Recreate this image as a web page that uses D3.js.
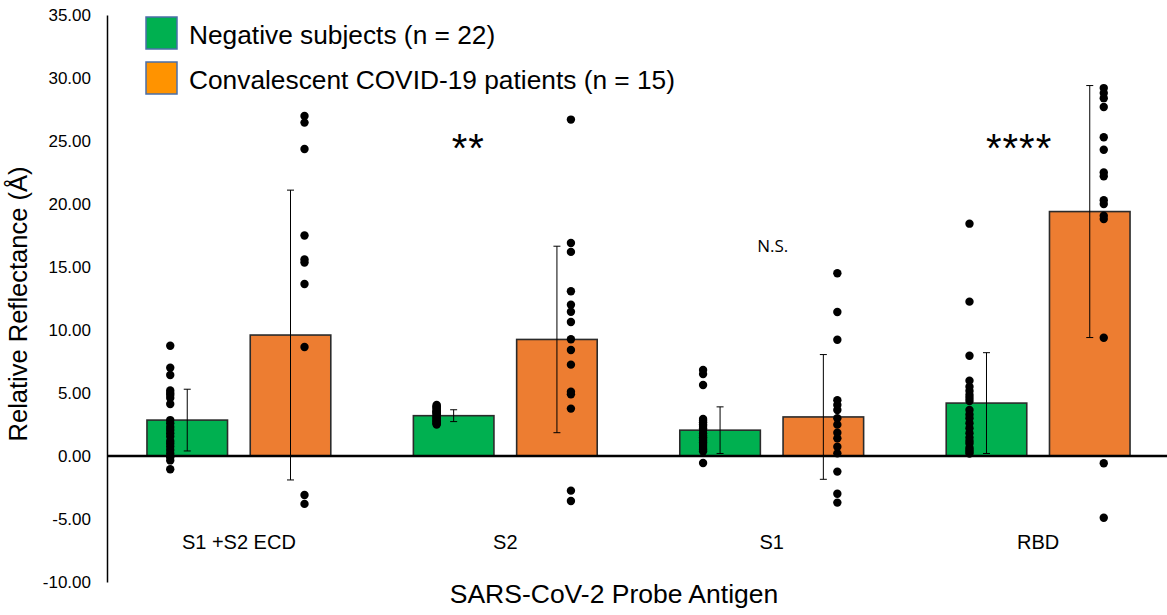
<!DOCTYPE html>
<html>
<head>
<meta charset="utf-8">
<script src="https://cdn.jsdelivr.net/npm/d3@7"></script>
<style>
  body { margin: 0; background: #fff; }
  svg { display: block; font-family: "Liberation Sans", Arial, sans-serif; }
</style>
</head>
<body>
<svg width="1167" height="615"></svg>
<script>
// données
const categories = ["S1 +S2 ECD", "S2", "S1", "RBD"];
const series = ["Negative subjects (n = 22)", "Convalescent COVID-19 patients (n = 15)"];

const negMeans = [2.85, 3.2, 2.05, 4.2];
const negSD    = [2.45, 0.47, 1.85, 4.0];
const posMeans = [9.6, 9.25, 3.1, 19.4];
const posSD    = [11.5, 7.4, 4.95, 10.0];

const negDots = [
  [8.75, 7.0, 6.43, 5.2, 5.0, 4.85, 4.6, 4.13, 2.85, 2.6, 2.3, 2.06, 1.8, 1.55, 1.2, 1.0, 0.75, 0.48, 0.2, -0.1, -0.35, -1.05],
  [4.05, 3.95, 3.9, 3.8, 3.75, 3.6, 3.55, 3.45, 3.4, 3.3, 3.2, 3.1, 3.05, 2.95, 2.9, 2.8, 2.75, 2.7, 2.6, 2.55, 2.5, 3.5],
  [6.83, 6.5, 5.63, 2.94, 2.8, 2.67, 2.5, 2.38, 2.2, 2.06, 1.8, 1.6, 1.48, 1.35, 1.22, 1.1, 0.95, 0.8, 0.63, 0.5, 0.37, -0.56],
  [18.44, 12.25, 7.96, 5.98, 5.5, 5.16, 4.84, 4.6, 4.37, 3.65, 3.3, 2.99, 2.6, 2.2, 1.8, 1.46, 1.2, 1.0, 0.66, 0.5, 0.34, 0.2]
];
const posDots = [
  [26.98, 26.46, 24.37, 17.5, 15.6, 15.35, 13.65, 8.65, -3.1, -3.8],
  [26.7, 16.9, 16.2, 13.07, 12.0, 11.45, 10.63, 9.26, 8.41, 7.25, 5.1, 4.9, 3.76, -2.75, -3.57],
  [14.5, 11.43, 9.23, 4.42, 4.05, 3.65, 3.0, 2.49, 1.85, 1.4, 0.74, 0.21, -1.24, -3.0, -3.7],
  [29.2, 28.8, 28.4, 27.7, 25.3, 24.3, 22.5, 22.2, 20.3, 20.0, 19.07, 18.8, 9.39, -0.58, -4.9]
];

const yTicks = [-10, -5, 0, 5, 10, 15, 20, 25, 30, 35];
const signifCats   = ["S2", "S1", "RBD"];
const signifLabels = ["**", "N.S.", "****"];

const svg = d3.select("svg");

const y = d3.scaleLinear().domain([-10, 35]).range([582, 15]);
const x0 = d3.scaleBand().domain(categories).range([107, 1170]).paddingInner(0.31).paddingOuter(0.15);
const x1 = d3.scaleBand().domain(["neg", "pos"]).range([0, x0.bandwidth()]).paddingInner(0.22);

const fill = {neg: "#00b050", pos: "#ed7d31"};
const dotShift = {neg: -17, pos: 14};   // les points sont décalés du centre de la barre

// table pour les barres
const rows = [];
categories.forEach(function(c, i){
  rows.push({cat: c, key: "neg", mean: negMeans[i], sd: negSD[i], dots: negDots[i]});
  rows.push({cat: c, key: "pos", mean: posMeans[i], sd: posSD[i], dots: posDots[i]});
});
const cx = d => x0(d.cat) + x1(d.key) + x1.bandwidth()/2;

// axe vertical
svg.append("g")
   .attr("transform", "translate(107,0)")
   .call(d3.axisLeft(y).tickValues(yTicks).tickSize(0).tickPadding(16).tickFormat(d => d.toFixed(2)))
   .call(g => g.select(".domain").attr("stroke", "#000").attr("stroke-width", 1.5))
   .call(g => g.selectAll("text").attr("font-size", 17).attr("fill", "#000")
               .attr("font-family", "Liberation Sans, Arial, sans-serif"));

// barres
svg.append("g").selectAll("rect")
   .data(rows).join("rect")
   .attr("x", d => x0(d.cat) + x1(d.key))
   .attr("width", x1.bandwidth())
   .attr("y", d => y(Math.max(0, d.mean)))
   .attr("height", d => Math.abs(y(d.mean) - y(0)))
   .attr("fill", d => fill[d.key])
   .attr("stroke", "#2b2b2b")
   .attr("stroke-width", 1.6);

// ligne du zéro
svg.append("line")
   .attr("x1", 107).attr("x2", 1167)
   .attr("y1", y(0)).attr("y2", y(0))
   .attr("stroke", "#000").attr("stroke-width", 2.5);

// points individuels
rows.forEach(function(r){
  svg.append("g").selectAll("circle")
     .data(r.dots).join("circle")
     .attr("cx", cx(r) + dotShift[r.key])
     .attr("cy", v => y(v))
     .attr("r", 4.2)
     .attr("fill", "#000");
});

// barres d'erreur
const err = svg.append("g").attr("stroke", "#000").attr("stroke-width", 1);
rows.forEach(function(r){
  const xm = cx(r), top = y(r.mean + r.sd), bot = y(r.mean - r.sd);
  err.append("line").attr("x1", xm).attr("x2", xm).attr("y1", top).attr("y2", bot);
  err.append("line").attr("x1", xm-3.5).attr("x2", xm+3.5).attr("y1", top).attr("y2", top);
  err.append("line").attr("x1", xm-3.5).attr("x2", xm+3.5).attr("y1", bot).attr("y2", bot);
});

// étiquettes des catégories
svg.append("g").selectAll("text")
   .data(categories).join("text")
   .attr("x", c => x0(c) + x0.bandwidth()/2)
   .attr("y", 549)
   .attr("text-anchor", "middle")
   .attr("font-size", 20)
   .text(c => c);

// significativité : étoiles à gauche du centre du groupe
const sigShift = {"**": -37, "****": -19, "N.S.": 1};
svg.append("g").selectAll("text")
   .data(signifLabels).join("text")
   .attr("x", (d, i) => x0(signifCats[i]) + x0.bandwidth()/2 + sigShift[d])
   .attr("y", d => d == "N.S." ? 252 : 162)
   .attr("text-anchor", "middle")
   .attr("font-family", d => d == "N.S." ? "Open Sans, sans-serif" : "Liberation Sans, Arial, sans-serif")
   .attr("font-size", d => d == "N.S." ? 17 : 40)
   .attr("letter-spacing", d => d == "N.S." ? 0 : 1)
   .text(d => d);

// titres des axes
svg.append("text")
   .attr("transform", "translate(27,304) rotate(-90)")
   .attr("text-anchor", "middle")
   .attr("font-size", 25.5)
   .text("Relative Reflectance (Å)");

svg.append("text")
   .attr("x", 614).attr("y", 603)
   .attr("text-anchor", "middle")
   .attr("font-size", 26.5)
   .text("SARS-CoV-2 Probe Antigen");

// légende
const legendFill = ["#00b050", "#ff9300"];
const leg = svg.append("g").selectAll("g")
   .data(series).join("g")
   .attr("transform", (d, i) => `translate(146,${17 + i*45})`);
leg.append("rect")
   .attr("width", 31).attr("height", 32)
   .attr("fill", (d, i) => legendFill[i])
   .attr("stroke", "#4a6fa8").attr("stroke-width", 1.5);
leg.append("text")
   .attr("x", 43).attr("y", 26.5)
   .attr("font-size", 26.3)
   .text(d => d);
</script>
</body>
</html>
